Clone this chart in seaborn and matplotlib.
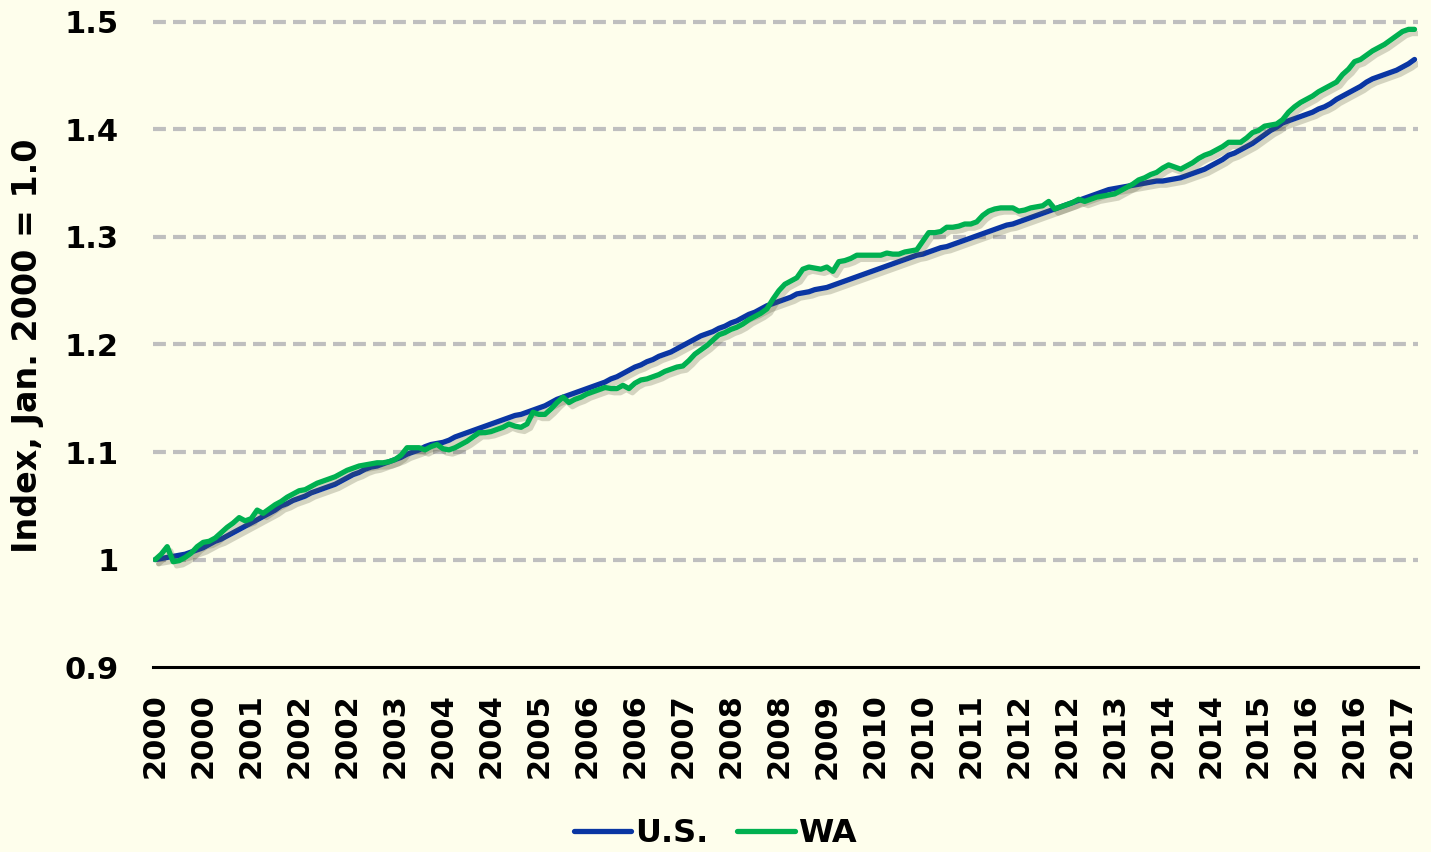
import pandas as pd
import seaborn as sns
import matplotlib.pyplot as plt
import matplotlib.patheffects as pe

# monthly index, Jan. 2000 = 1.0 (Jan 2000 .. Jul 2017)
us = [
    1.000, 1.001, 1.002, 1.003, 1.004, 1.005, 1.007, 1.009, 1.011, 1.014, 1.017, 1.019,
    1.022, 1.025, 1.028, 1.031, 1.034, 1.037, 1.040, 1.043, 1.046, 1.050, 1.052, 1.055,
    1.057, 1.059, 1.062, 1.064, 1.066, 1.068, 1.070, 1.073, 1.076, 1.079, 1.081, 1.084,
    1.086, 1.087, 1.089, 1.091, 1.093, 1.095, 1.098, 1.100, 1.102, 1.105, 1.107, 1.108,
    1.109, 1.111, 1.114, 1.116, 1.118, 1.120, 1.122, 1.124, 1.126, 1.128, 1.130, 1.132,
    1.134, 1.135, 1.137, 1.139, 1.141, 1.143, 1.146, 1.149, 1.151, 1.153, 1.155, 1.157,
    1.159, 1.161, 1.163, 1.165, 1.168, 1.170, 1.173, 1.176, 1.179, 1.181, 1.184, 1.186,
    1.189, 1.191, 1.193, 1.196, 1.199, 1.202, 1.205, 1.208, 1.210, 1.212, 1.215, 1.217,
    1.220, 1.222, 1.225, 1.228, 1.230, 1.233, 1.236, 1.238, 1.240, 1.242, 1.244, 1.247,
    1.248, 1.249, 1.251, 1.252, 1.253, 1.255, 1.257, 1.259, 1.261, 1.263, 1.265, 1.267,
    1.269, 1.271, 1.273, 1.275, 1.277, 1.279, 1.281, 1.283, 1.284, 1.286, 1.288, 1.290,
    1.291, 1.293, 1.295, 1.297, 1.299, 1.301, 1.303, 1.305, 1.307, 1.309, 1.311, 1.312,
    1.314, 1.316, 1.318, 1.320, 1.322, 1.324, 1.326, 1.328, 1.330, 1.332, 1.334, 1.336,
    1.338, 1.340, 1.342, 1.344, 1.345, 1.346, 1.347, 1.348, 1.349, 1.350, 1.351, 1.352,
    1.352, 1.353, 1.354, 1.355, 1.357, 1.359, 1.361, 1.363, 1.366, 1.369, 1.372, 1.376,
    1.378, 1.381, 1.384, 1.387, 1.391, 1.395, 1.399, 1.402, 1.406, 1.408, 1.410, 1.412,
    1.414, 1.416, 1.419, 1.421, 1.424, 1.428, 1.431, 1.434, 1.437, 1.440, 1.444, 1.447,
    1.449, 1.451, 1.453, 1.455, 1.458, 1.461, 1.465,
]
wa = [
    1.000, 1.005, 1.012, 0.998, 0.999, 1.002, 1.006, 1.012, 1.016, 1.017, 1.020, 1.025,
    1.030, 1.034, 1.039, 1.036, 1.038, 1.046, 1.043, 1.047, 1.051, 1.054, 1.058, 1.061,
    1.064, 1.065, 1.068, 1.071, 1.073, 1.075, 1.077, 1.080, 1.083, 1.085, 1.087, 1.088,
    1.089, 1.090, 1.090, 1.091, 1.093, 1.097, 1.104, 1.104, 1.104, 1.102, 1.105, 1.107,
    1.103, 1.102, 1.104, 1.107, 1.110, 1.114, 1.118, 1.118, 1.119, 1.121, 1.123, 1.126,
    1.124, 1.123, 1.126, 1.137, 1.135, 1.135, 1.140, 1.146, 1.151, 1.146, 1.149, 1.151,
    1.154, 1.156, 1.158, 1.160, 1.159, 1.159, 1.162, 1.159, 1.164, 1.167, 1.168, 1.170,
    1.172, 1.175, 1.177, 1.179, 1.180, 1.185, 1.191, 1.195, 1.199, 1.204, 1.209, 1.211,
    1.214, 1.216, 1.219, 1.223, 1.226, 1.229, 1.233, 1.242, 1.250, 1.256, 1.259, 1.262,
    1.270, 1.272, 1.271, 1.270, 1.272, 1.268, 1.277, 1.278, 1.280, 1.283, 1.283, 1.283,
    1.283, 1.283, 1.285, 1.284, 1.284, 1.286, 1.287, 1.288, 1.296, 1.304, 1.304, 1.305,
    1.309, 1.309, 1.310, 1.312, 1.312, 1.314, 1.320, 1.324, 1.326, 1.327, 1.327, 1.327,
    1.324, 1.325, 1.327, 1.328, 1.329, 1.333, 1.326, 1.328, 1.330, 1.332, 1.335, 1.333,
    1.335, 1.337, 1.338, 1.339, 1.340, 1.343, 1.346, 1.349, 1.353, 1.355, 1.358, 1.360,
    1.364, 1.367, 1.365, 1.363, 1.366, 1.369, 1.373, 1.376, 1.378, 1.381, 1.384, 1.388,
    1.388, 1.388, 1.392, 1.397, 1.399, 1.403, 1.404, 1.405, 1.409, 1.416, 1.421, 1.425,
    1.428, 1.431, 1.435, 1.438, 1.441, 1.444, 1.451, 1.456, 1.463, 1.465, 1.469, 1.473,
    1.476, 1.479, 1.483, 1.487, 1.491, 1.493, 1.493,
]
months = list(range(len(us)))

x_tick_labels = ["2000", "2000", "2001", "2002", "2002", "2003", "2004", "2004", "2005",
                 "2006", "2006", "2007", "2008", "2008", "2009", "2010", "2010", "2011",
                 "2012", "2012", "2013", "2014", "2014", "2015", "2016", "2016", "2017"]
y_ticks = [0.9, 1.0, 1.1, 1.2, 1.3, 1.4, 1.5]
y_tick_labels = ["0.9", "1", "1.1", "1.2", "1.3", "1.4", "1.5"]

df = pd.DataFrame({
    "month": months * 2,
    "value": us + wa,
    "series": ["U.S."] * len(us) + ["WA"] * len(wa),
})

bg = "#FEFEEC"
blue = "#0A36A3"
green = "#00B050"
sns.set_style("white", {"axes.facecolor": bg, "figure.facecolor": bg,
                        "text.color": "black", "axes.labelcolor": "black",
                        "xtick.color": "black", "ytick.color": "black"})
plt.rcParams["font.family"] = ["DejaVu Sans"]
plt.rcParams["font.weight"] = "bold"

fig = plt.figure(figsize=(14.31, 8.52), dpi=100)
ax = fig.add_axes([0.107, 0.217, 0.884, 0.770])

for y in y_ticks[1:]:
    ax.axhline(y, color="#BFBFBF", lw=3, ls=(0, (3.1, 1.7)), zorder=0)

sns.lineplot(data=df, x="month", y="value", hue="series",
             palette={"U.S.": blue, "WA": green},
             lw=3.8, ax=ax, legend=False)
for line in ax.lines[-2:]:
    line.set_solid_capstyle("round")
    line.set_path_effects([
        pe.SimpleLineShadow(offset=(2.5, -3), shadow_color="#5a5a40", alpha=0.25),
        pe.Normal(),
    ])

ax.set_xlim(-0.35, 210.6)
ax.set_ylim(0.9, 1.51)
ax.set_xticks(months[::8])
ax.set_xticklabels(x_tick_labels, rotation=90, fontsize=22, fontweight="bold")
ax.set_yticks(y_ticks)
ax.set_yticklabels(y_tick_labels, fontsize=22, fontweight="bold")
ax.tick_params(axis="x", length=0, pad=19)
ax.tick_params(axis="y", length=0, pad=25)

ax.set_xlabel("")
ax.set_ylabel("Index, Jan. 2000 = 1.0", fontsize=24, fontweight="bold")
ax.yaxis.set_label_coords(-0.086, 0.49)

for s in ["top", "right", "left"]:
    ax.spines[s].set_visible(False)
ax.spines["bottom"].set_color("black")
ax.spines["bottom"].set_linewidth(2.2)

handles = [plt.Line2D([], [], color=blue, lw=3.8, solid_capstyle="round"),
           plt.Line2D([], [], color=green, lw=3.8, solid_capstyle="round")]
fig.legend(handles, ["U.S.", "WA"], loc="lower center", bbox_to_anchor=(0.5, -0.03),
           ncol=2, frameon=False, handlelength=1.8,
           handletextpad=0.12, columnspacing=0.9, prop={"weight": "bold", "size": 23})

fig.savefig("out.png", dpi=100, facecolor=bg)
